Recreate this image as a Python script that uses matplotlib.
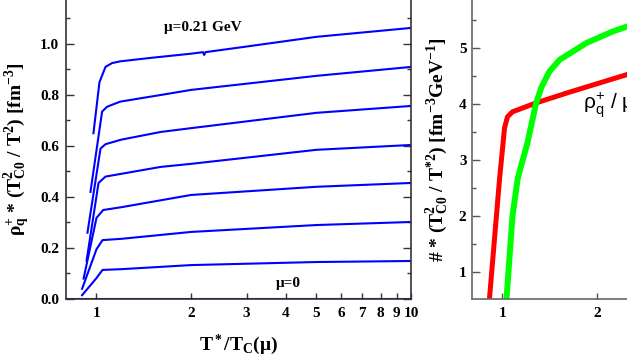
import matplotlib
matplotlib.use('Agg')
import matplotlib.pyplot as plt
from matplotlib.ticker import FixedLocator, MultipleLocator, NullLocator

# --- Data ---
# left panel: rho_q^+ * (T_C0^2 / T^2) vs T*/T_C(mu), mu = 0 ... 0.21 GeV (top)
x_c1 = [0.978, 1.022, 1.068, 1.12, 1.19, 1.5, 2.0, 2.18, 2.2, 2.22, 3.0, 5.0, 10.0]
y_c1 = [0.65, 0.85, 0.91, 0.925, 0.932, 0.946, 0.962, 0.968, 0.957, 0.968, 0.99, 1.028, 1.063]
x_c2 = [0.957, 1.042, 1.081, 1.19, 1.6, 2.0, 5.0, 10.0]
y_c2 = [0.42, 0.735, 0.754, 0.774, 0.80, 0.82, 0.875, 0.91]
x_c3 = [0.936, 1.03, 1.068, 1.2, 1.6, 2.0, 5.0, 10.0]
y_c3 = [0.26, 0.59, 0.607, 0.625, 0.655, 0.67, 0.73, 0.757]
x_c4 = [0.93, 1.015, 1.068, 1.6, 2.0, 5.0, 10.0]
y_c4 = [0.15, 0.455, 0.48, 0.518, 0.53, 0.585, 0.604]
x_c5 = [0.91, 1.0, 1.05, 1.2, 2.0, 5.0, 10.0]
y_c5 = [0.08, 0.318, 0.349, 0.36, 0.408, 0.44, 0.455]
x_c6 = [0.90, 1.0, 1.045, 1.2, 2.0, 5.0, 10.0]
y_c6 = [0.04, 0.195, 0.231, 0.236, 0.263, 0.29, 0.302]
x_c7 = [0.90, 1.0, 1.045, 1.2, 2.0, 5.0, 10.0]
y_c7 = [0.015, 0.082, 0.114, 0.117, 0.133, 0.145, 0.149]
x_base = [0.8, 10.0]
y_base = [0.0, 0.0]

left_yticks = [0.0, 0.2, 0.4, 0.6, 0.8, 1.0]
left_xticks = [1, 2, 3, 4, 5, 6, 7, 8, 9, 10]

# right panel
x_red = [0.909, 0.978, 1.015, 1.037, 1.076, 1.28, 1.63, 2.47, 2.6]
y_red = [0.52, 2.64, 3.57, 3.77, 3.86, 4.02, 4.21, 4.52, 4.56]
x_green = [1.03, 1.076, 1.116, 1.13, 1.2, 1.26, 1.28, 1.33, 1.41, 1.52, 1.85, 2.23, 2.6]
y_green = [0.52, 2.0, 2.64, 2.77, 3.3, 3.85, 4.02, 4.3, 4.58, 4.79, 5.09, 5.29, 5.42]

right_yticks = [1, 2, 3, 4, 5]
right_xticks = [1, 2, 3, 4, 5]

# --- Style ---
plt.rcParams['font.family'] = ['Liberation Serif', 'DejaVu Serif']
plt.rcParams['font.weight'] = 'bold'
plt.rcParams['mathtext.fontset'] = 'custom'
plt.rcParams['mathtext.rm'] = 'Liberation Serif:bold'
plt.rcParams['mathtext.it'] = 'Liberation Serif:bold'
plt.rcParams['mathtext.bf'] = 'Liberation Serif:bold'

W, H = 627, 359
fig = plt.figure(figsize=(W / 100, H / 100), dpi=100)

# pixel -> figure fraction helper
def box(x0, x1, y_top, y_bot):
    return [x0 / W, 1 - y_bot / H, (x1 - x0) / W, (y_bot - y_top) / H]

# --- Left panel ---
ax = fig.add_axes(box(66, 411, 0, 299))
for xs, ys in [(x_c1, y_c1), (x_c2, y_c2), (x_c3, y_c3), (x_c4, y_c4),
               (x_c5, y_c5), (x_c6, y_c6), (x_c7, y_c7), (x_base, y_base)]:
    ax.plot(xs, ys, color='#0000ff', lw=1.5, solid_joinstyle='round')
ax.set_xscale('log')
ax.set_xlim(0.8, 10)
ax.set_ylim(0, 1.1725)
ax.xaxis.set_major_locator(FixedLocator(left_xticks))
ax.xaxis.set_minor_locator(NullLocator())
ax.set_xticklabels([str(t) for t in left_xticks], fontweight='bold')
ax.set_yticks(left_yticks)
ax.set_yticklabels(['%.1f' % t for t in left_yticks], fontweight='bold')
ax.yaxis.set_minor_locator(MultipleLocator(0.1))
ax.tick_params(direction='in', which='both', right=True, labelsize=11, width=1.0, color='#333333')
ax.tick_params(axis='y', which='major', length=6, pad=5)
ax.tick_params(axis='y', which='minor', length=3)
ax.tick_params(axis='x', which='major', length=4, pad=6)
ax.spines['top'].set_visible(False)
for s in ['left', 'right', 'bottom']:
    ax.spines[s].set_color('#333333')
    ax.spines[s].set_linewidth(1.2)
ax.set_xlabel(r'T$^*$/T$_{\rm C}$(μ)', fontsize=14, fontweight='bold', labelpad=9)
ax.set_ylabel(r'ρ$_{\rm q}^{+}$ * (T$^2_{\rm C0}$ / T$^2$) [fm$^{-3}$]', fontsize=14,
              fontweight='bold', labelpad=6)
ax.annotate('μ=0.21 GeV', xy=(203 / W, 1 - 28 / H), xycoords='figure fraction',
            ha='center', va='center', fontsize=11, fontweight='bold')
ax.annotate('μ=0', xy=(288 / W, 1 - 283 / H), xycoords='figure fraction',
            ha='center', va='center', fontsize=11, fontweight='bold')

# --- Right panel (cut off by the figure edge) ---
ax2 = fig.add_axes(box(472, 817, 0, 299))
ax2.plot(x_red, y_red, color='#ff0000', lw=3.6, solid_capstyle='butt')
ax2.plot(x_green, y_green, color='#00ff00', lw=4.3, solid_capstyle='butt')
ax2.set_xscale('log')
ax2.set_xlim(0.8, 10)
ax2.set_ylim(0.518, 5.857)
ax2.xaxis.set_major_locator(FixedLocator(right_xticks))
ax2.xaxis.set_minor_locator(NullLocator())
ax2.set_xticklabels([str(t) for t in right_xticks], fontweight='bold')
ax2.set_yticks(right_yticks)
ax2.set_yticklabels([str(t) for t in right_yticks], fontweight='bold')
ax2.yaxis.set_minor_locator(MultipleLocator(0.5))
ax2.tick_params(direction='in', which='both', labelsize=11, width=1.0, color='#555555')
ax2.tick_params(axis='y', which='major', length=6, pad=4)
ax2.tick_params(axis='y', which='minor', length=3)
ax2.tick_params(axis='x', which='major', length=4, pad=6)
ax2.spines['top'].set_visible(False)
for s in ['left', 'right', 'bottom']:
    ax2.spines[s].set_color('#666666')
    ax2.spines[s].set_linewidth(1.2)
ax2.set_ylabel(r'# * (T$^2_{\rm C0}$ / T$^{*2}$) [fm$^{-3}$GeV$^{-1}$]', fontsize=14,
               fontweight='bold', labelpad=6)
ax2.annotate(r'ρ$_{\mathregular{q}}^{\mathregular{+}}$ / μ', xy=(583 / W, 1 - 109 / H),
             xycoords='figure fraction', ha='left', va='baseline', fontsize=15,
             family='Liberation Sans', fontweight='normal', math_fontfamily='dejavusans')
fig.text(626 / W, 1 - 343 / H, r'T$^*$/T$_{\rm C}$(μ)', ha='left', va='center',
         fontsize=14, fontweight='bold')

fig.savefig('out.png', dpi=100)
